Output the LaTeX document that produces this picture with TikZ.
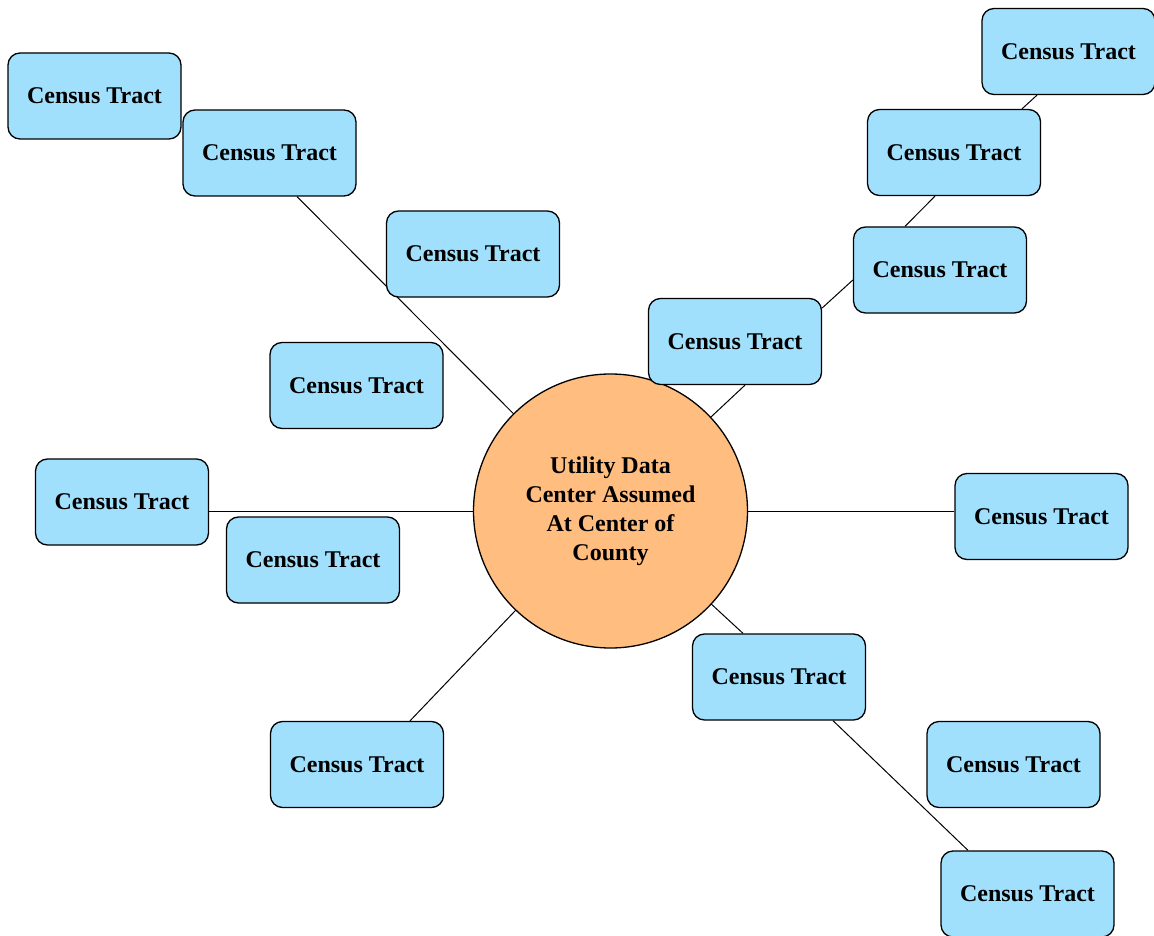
\documentclass[tikz,border=0pt]{standalone}
\usepackage{fontspec}
\setmainfont{Liberation Serif}
\usetikzlibrary{backgrounds}
\definecolor{tractblue}{RGB}{160,224,253}
\definecolor{centerorange}{RGB}{255,190,128}
\tikzset{
  tract/.style={draw=black, line width=1.3pt, fill=tractblue, rounded corners=12pt,
    minimum width=173pt, minimum height=86pt, inner sep=0pt,
    font=\fontsize{24}{29}\selectfont\bfseries},
  hub/.style={draw=black, line width=1.3pt, fill=centerorange, circle,
    minimum size=274pt, inner sep=0pt, align=center,
    font=\fontsize{24}{29}\selectfont\bfseries},
  link/.style={draw=black, line width=1pt}
}
\begin{document}
\begin{tikzpicture}[x=1pt,y=-1pt]
\useasboundingbox (0,0) rectangle (1154,936);
\node[hub] (c) at (610.5,511) {Utility Data\\Center Assumed\\At Center of\\County};
\node[tract] (b1) at (94.5,96) {Census Tract};
\node[tract] (b2) at (269.5,153) {Census Tract};
\node[tract] (b3) at (473,254) {Census Tract};
\node[tract] (b4) at (356.5,385.5) {Census Tract};
\node[tract] (b5) at (122,502) {Census Tract};
\node[tract] (b6) at (313,560) {Census Tract};
\node[tract] (b7) at (357,764.5) {Census Tract};
\node[tract] (b8) at (735,341.5) {Census Tract};
\node[tract] (b9) at (940,270) {Census Tract};
\node[tract] (b10) at (954,152.5) {Census Tract};
\node[tract] (b11) at (1068.5,51.5) {Census Tract};
\node[tract] (b12) at (1041.5,516.5) {Census Tract};
\node[tract] (b13) at (779,677) {Census Tract};
\node[tract] (b14) at (1013.5,764.5) {Census Tract};
\node[tract] (b15) at (1027.5,894) {Census Tract};
\begin{scope}[on background layer]
\draw[link] (c.center) -- ([xshift=27.5pt]b2.south);
\draw[link] (c.center) -- (b5.east |- c.center);
\draw[link] (c.center) -- ([xshift=53pt]b7.north);
\draw[link] (c.center) -- ([xshift=10pt]b8.south);
\draw[link] ([yshift=33.5pt]b8.east) -- ([yshift=-10pt]b9.west);
\draw[link] ([xshift=-35pt]b9.north) -- ([xshift=-19pt]b10.south);
\draw[link] ([xshift=68pt]b10.north) -- ([xshift=-31.5pt]b11.south);
\draw[link] (c.center) -- (b12.west |- c.center);
\draw[link] (c.center) -- ([xshift=-36pt]b13.north);
\draw[link] ([xshift=54pt]b13.south) -- ([xshift=-59.5pt]b15.north);
\end{scope}
\end{tikzpicture}
\end{document}
